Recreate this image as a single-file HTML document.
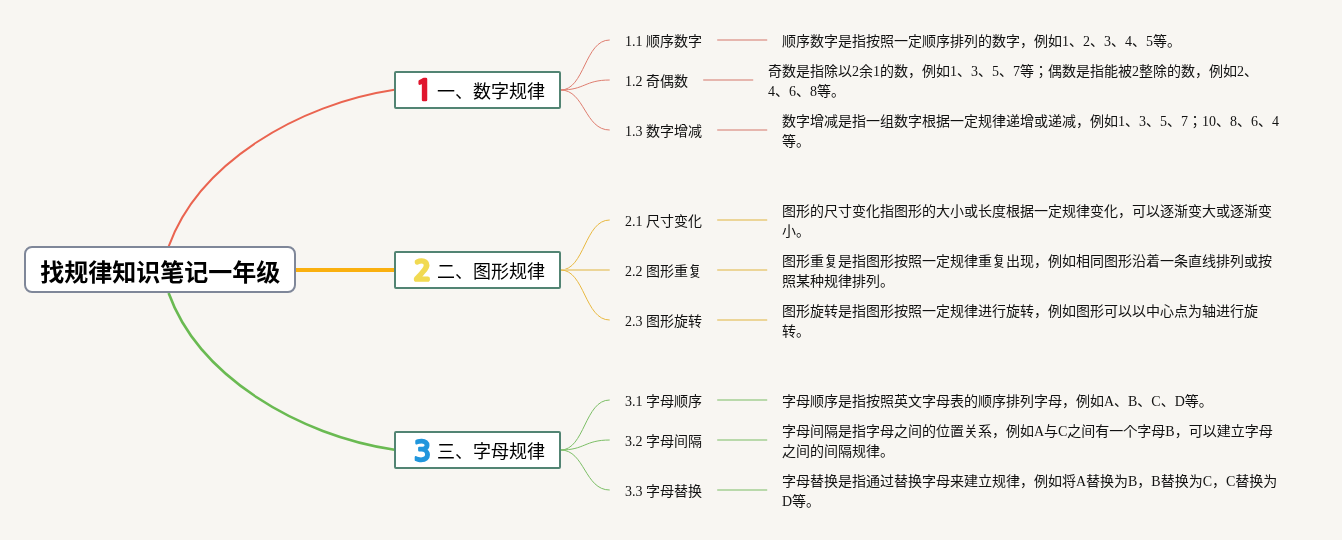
<!DOCTYPE html>
<html><head><meta charset="utf-8"><title>找规律知识笔记一年级</title>
<style>
html,body{margin:0;padding:0}
body{width:1342px;height:540px;overflow:hidden;background:#f8f6f2;position:relative;font-family:"Liberation Serif","Noto Sans CJK JP",serif;color:#111}
svg{position:absolute;left:0;top:0}
.root{position:absolute;left:24px;top:246px;width:268px;height:43px;border:2px solid #7f8799;border-radius:8px;background:#fff;font:bold 24px/43px "Liberation Sans","Noto Sans CJK JP",sans-serif;color:#000;text-align:center;white-space:nowrap}
.root span{position:relative;top:2.8px;left:0.2px}
.branch{position:absolute;left:394px;width:163px;height:34px;border:2px solid #528473;border-radius:2px;background:#fff;white-space:nowrap}
.branch .bt{position:absolute;left:41px;top:2.1px;font:18px/34px "Liberation Serif","Noto Sans CJK JP",serif;color:#000}
.sub{position:absolute;left:625px;font-size:14px;line-height:20px;white-space:nowrap}
.desc{position:absolute;font-size:14px;line-height:20px;max-width:500px;transform:translateY(-50%)}
#w{position:absolute;left:0;top:0;width:1342px;height:540px;will-change:transform}
</style></head><body><div id="w">
<svg width="1342" height="540" viewBox="0 0 1342 540">
<path d="M168.6 246.6C198.6 163.2,298.2 104.1,394.5 89.8" stroke="#ea6450" stroke-width="2.0" fill="none"/>
<path d="M168.6 293.0C198.6 376.4,298.2 435.4,394.5 449.7" stroke="#6aba52" stroke-width="2.6" fill="none"/>
<path d="M296 270H395" stroke="#fab00f" stroke-width="4" fill="none"/>
<path d="M560.7 90C584.7 90,584.7 40,609.7 40" stroke="#de7d6f" stroke-width="1" fill="none"/>
<path d="M717.2 40H767.2" stroke="#e6b6ae" stroke-width="2" fill="none"/>
<path d="M560.7 90C584.7 90,584.7 80,609.7 80" stroke="#de7d6f" stroke-width="1" fill="none"/>
<path d="M703.2 80H753.2" stroke="#e6b6ae" stroke-width="2" fill="none"/>
<path d="M560.7 90C584.7 90,584.7 130,609.7 130" stroke="#de7d6f" stroke-width="1" fill="none"/>
<path d="M717.2 130H767.2" stroke="#e6b6ae" stroke-width="2" fill="none"/>
<path d="M560.7 270C584.7 270,584.7 220,609.7 220" stroke="#e8b840" stroke-width="1" fill="none"/>
<path d="M717.2 220H767.2" stroke="#ecd598" stroke-width="2" fill="none"/>
<path d="M560.7 270H609.7" stroke="#ecd598" stroke-width="2" fill="none"/>
<path d="M717.2 270H767.2" stroke="#ecd598" stroke-width="2" fill="none"/>
<path d="M560.7 270C584.7 270,584.7 320,609.7 320" stroke="#e8b840" stroke-width="1" fill="none"/>
<path d="M717.2 320H767.2" stroke="#ecd598" stroke-width="2" fill="none"/>
<path d="M560.7 450C584.7 450,584.7 400,609.7 400" stroke="#7cbe66" stroke-width="1" fill="none"/>
<path d="M717.2 400H767.2" stroke="#b9d9ab" stroke-width="2" fill="none"/>
<path d="M560.7 450C584.7 450,584.7 440,609.7 440" stroke="#7cbe66" stroke-width="1" fill="none"/>
<path d="M717.2 440H767.2" stroke="#b9d9ab" stroke-width="2" fill="none"/>
<path d="M560.7 450C584.7 450,584.7 490,609.7 490" stroke="#7cbe66" stroke-width="1" fill="none"/>
<path d="M717.2 490H767.2" stroke="#b9d9ab" stroke-width="2" fill="none"/>
</svg>
<div class="root"><span>找规律知识笔记一年级</span></div>
<div class="sub" style="top:32.1px">1.1 顺序数字</div>
<div class="desc" style="left:781.9px;top:41.6px">顺序数字是指按照一定顺序排列的数字，例如1、2、3、4、5等。</div>
<div class="sub" style="top:72.1px">1.2 奇偶数</div>
<div class="desc" style="left:767.9px;top:81.6px">奇数是指除以2余1的数，例如1、3、5、7等；偶数是指能被2整除的数，例如2、4、6、8等。</div>
<div class="sub" style="top:122.1px">1.3 数字增减</div>
<div class="desc" style="left:781.9px;top:131.6px">数字增减是指一组数字根据一定规律递增或递减，例如1、3、5、7；10、8、6、4等。</div>
<div class="branch" style="top:71px"><span class="bt">一、数字规律</span></div>
<div class="sub" style="top:212.1px">2.1 尺寸变化</div>
<div class="desc" style="left:781.9px;top:221.6px">图形的尺寸变化指图形的大小或长度根据一定规律变化，可以逐渐变大或逐渐变小。</div>
<div class="sub" style="top:262.1px">2.2 图形重复</div>
<div class="desc" style="left:781.9px;top:271.6px">图形重复是指图形按照一定规律重复出现，例如相同图形沿着一条直线排列或按照某种规律排列。</div>
<div class="sub" style="top:312.1px">2.3 图形旋转</div>
<div class="desc" style="left:781.9px;top:321.6px">图形旋转是指图形按照一定规律进行旋转，例如图形可以以中心点为轴进行旋转。</div>
<div class="branch" style="top:251px"><span class="bt">二、图形规律</span></div>
<div class="sub" style="top:392.1px">3.1 字母顺序</div>
<div class="desc" style="left:781.9px;top:401.6px">字母顺序是指按照英文字母表的顺序排列字母，例如A、B、C、D等。</div>
<div class="sub" style="top:432.1px">3.2 字母间隔</div>
<div class="desc" style="left:781.9px;top:441.6px">字母间隔是指字母之间的位置关系，例如A与C之间有一个字母B，可以建立字母之间的间隔规律。</div>
<div class="sub" style="top:482.1px">3.3 字母替换</div>
<div class="desc" style="left:781.9px;top:491.6px">字母替换是指通过替换字母来建立规律，例如将A替换为B，B替换为C，C替换为D等。</div>
<div class="branch" style="top:431px"><span class="bt">三、字母规律</span></div>
<svg width="1342" height="540" viewBox="0 0 1342 540" stroke-linejoin="round" stroke-linecap="round">
<text x="424.2" y="101.4" font-family="IPAGothic, sans-serif" font-size="29.4" text-anchor="middle" fill="#e0152d" stroke="#e0152d" stroke-width="2.5" transform="translate(424.2 0) scale(1.1 1) translate(-424.2 0)">1</text>
<text x="422.4" y="280.3" font-family="NanumGothic, sans-serif" font-size="26.2" text-anchor="middle" fill="#f1da52" stroke="#f1da52" stroke-width="3.5" transform="translate(422.4 0) scale(1.05 1) translate(-422.4 0)">2</text>
<text x="422.4" y="460.9" font-family="DejaVu Sans, sans-serif" font-size="29.2" text-anchor="middle" fill="#2196dc" stroke="#2196dc" stroke-width="2.4" transform="translate(422.4 0) scale(0.93 1) translate(-422.4 0)">3</text>
</svg>
</div></body></html>
